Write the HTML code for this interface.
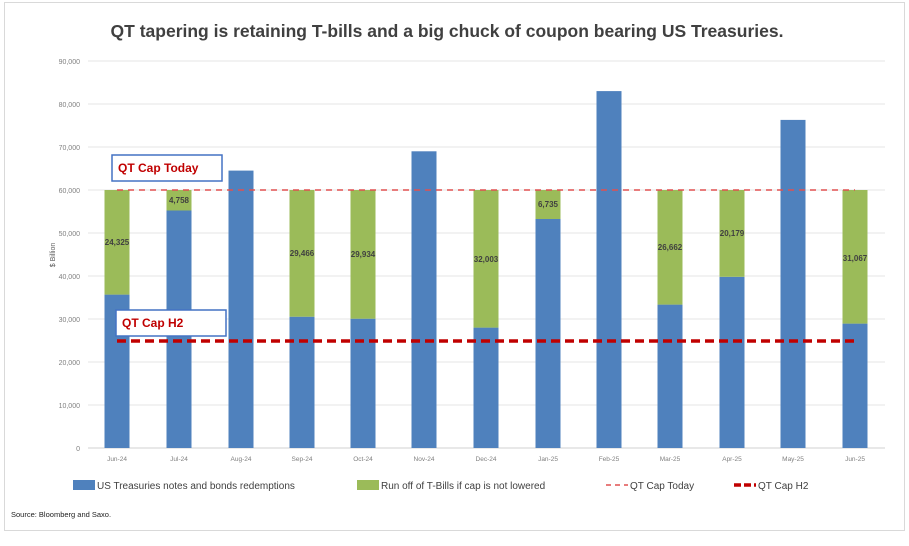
<!DOCTYPE html>
<html><head><meta charset="utf-8"><style>
body{margin:0;background:#fff;width:909px;height:541px;overflow:hidden;font-family:"Liberation Sans",sans-serif}
</style></head><body>
<svg width="909" height="541" xmlns="http://www.w3.org/2000/svg" font-family="Liberation Sans, sans-serif">
<rect x="4.5" y="2.5" width="900" height="528" fill="#fff" stroke="#d9d9d9"/>
<text x="447" y="37" text-anchor="middle" font-size="17.5" font-weight="bold" fill="#404040">QT tapering is retaining T-bills and a big chuck of coupon bearing US Treasuries.</text>
<g stroke="#e6e6e6" stroke-width="1">
<line x1="88" x2="885" y1="61" y2="61"/><line x1="88" x2="885" y1="104" y2="104"/><line x1="88" x2="885" y1="147" y2="147"/><line x1="88" x2="885" y1="190" y2="190"/><line x1="88" x2="885" y1="233" y2="233"/><line x1="88" x2="885" y1="276" y2="276"/><line x1="88" x2="885" y1="319" y2="319"/><line x1="88" x2="885" y1="362" y2="362"/><line x1="88" x2="885" y1="405" y2="405"/><line x1="88" x2="885" y1="448" y2="448" stroke="#d0d0d0"/>
</g>
<g font-size="7" fill="#808080" text-anchor="end">
<text x="80" y="64">90,000</text><text x="80" y="107">80,000</text><text x="80" y="150">70,000</text><text x="80" y="193">60,000</text><text x="80" y="236">50,000</text><text x="80" y="279">40,000</text><text x="80" y="322">30,000</text><text x="80" y="365">20,000</text><text x="80" y="408">10,000</text><text x="80" y="451">0</text>
</g>
<text transform="translate(55,255) rotate(-90)" text-anchor="middle" font-size="7" fill="#595959">$ Billion</text>
<g fill="#4f81bd">
<rect x="104.5" y="294.6" width="25" height="153.4"/>
<rect x="166.5" y="210.5" width="25" height="237.5"/>
<rect x="228.5" y="170.6" width="25" height="277.4"/>
<rect x="289.5" y="316.7" width="25" height="131.3"/>
<rect x="350.5" y="318.7" width="25" height="129.3"/>
<rect x="411.5" y="151.3" width="25" height="296.7"/>
<rect x="473.5" y="327.6" width="25" height="120.4"/>
<rect x="535.5" y="219" width="25" height="229"/>
<rect x="596.5" y="91.1" width="25" height="356.9"/>
<rect x="657.5" y="304.6" width="25" height="143.4"/>
<rect x="719.5" y="276.8" width="25" height="171.2"/>
<rect x="780.5" y="119.9" width="25" height="328.1"/>
<rect x="842.5" y="323.6" width="25" height="124.4"/>
</g>
<g fill="#9bbb59">
<rect x="104.5" y="190" width="25" height="104.6"/>
<rect x="166.5" y="190" width="25" height="20.5"/>
<rect x="289.5" y="190" width="25" height="126.7"/>
<rect x="350.5" y="190" width="25" height="128.7"/>
<rect x="473.5" y="190" width="25" height="137.6"/>
<rect x="535.5" y="190" width="25" height="29"/>
<rect x="657.5" y="190" width="25" height="114.6"/>
<rect x="719.5" y="190" width="25" height="86.8"/>
<rect x="842.5" y="190" width="25" height="133.6"/>
</g>
<g font-size="8" font-weight="bold" fill="#404040" text-anchor="middle">
<text x="117" y="245">24,325</text>
<text x="179" y="203">4,758</text>
<text x="302" y="256">29,466</text>
<text x="363" y="257">29,934</text>
<text x="486" y="262">32,003</text>
<text x="548" y="207">6,735</text>
<text x="670" y="250">26,662</text>
<text x="732" y="236">20,179</text>
<text x="855" y="261">31,067</text>
</g>
<g font-size="6.5" fill="#808080" text-anchor="middle">
<text x="117" y="461">Jun-24</text><text x="179" y="461">Jul-24</text><text x="241" y="461">Aug-24</text><text x="302" y="461">Sep-24</text><text x="363" y="461">Oct-24</text><text x="424" y="461">Nov-24</text><text x="486" y="461">Dec-24</text><text x="548" y="461">Jan-25</text><text x="609" y="461">Feb-25</text><text x="670" y="461">Mar-25</text><text x="732" y="461">Apr-25</text><text x="793" y="461">May-25</text><text x="855" y="461">Jun-25</text>
</g>
<rect x="112" y="155" width="110" height="26" fill="#fff" stroke="#4472c4" stroke-width="1.5"/>
<text x="118" y="172" font-size="12" font-weight="bold" fill="#c00000">QT Cap Today</text>
<rect x="116" y="310" width="110" height="26" fill="#fff" stroke="#4472c4" stroke-width="1.5"/>
<text x="122" y="327" font-size="12" font-weight="bold" fill="#c00000">QT Cap H2</text>
<line x1="117" x2="855" y1="190" y2="190" stroke="#e05050" stroke-width="1.5" stroke-dasharray="6,5"/>
<line x1="117" x2="855" y1="341" y2="341" stroke="#c00000" stroke-width="3.5" stroke-dasharray="9,5"/>
<g font-size="10" fill="#404040">
<rect x="73" y="480" width="22" height="10" fill="#4f81bd"/><text x="97" y="489">US Treasuries notes and bonds redemptions</text>
<rect x="357" y="480" width="22" height="10" fill="#9bbb59"/><text x="381" y="489">Run off of T-Bills if cap is not lowered</text>
<line x1="606" x2="628" y1="485" y2="485" stroke="#e05050" stroke-width="1.5" stroke-dasharray="5,4"/><text x="630" y="489">QT Cap Today</text>
<line x1="734" x2="756" y1="485" y2="485" stroke="#c00000" stroke-width="3.5" stroke-dasharray="7,3"/><text x="758" y="489">QT Cap H2</text>
</g>
<text x="11" y="517" font-size="7.5" fill="#222">Source: Bloomberg and Saxo.</text>
</svg>
</body></html>
